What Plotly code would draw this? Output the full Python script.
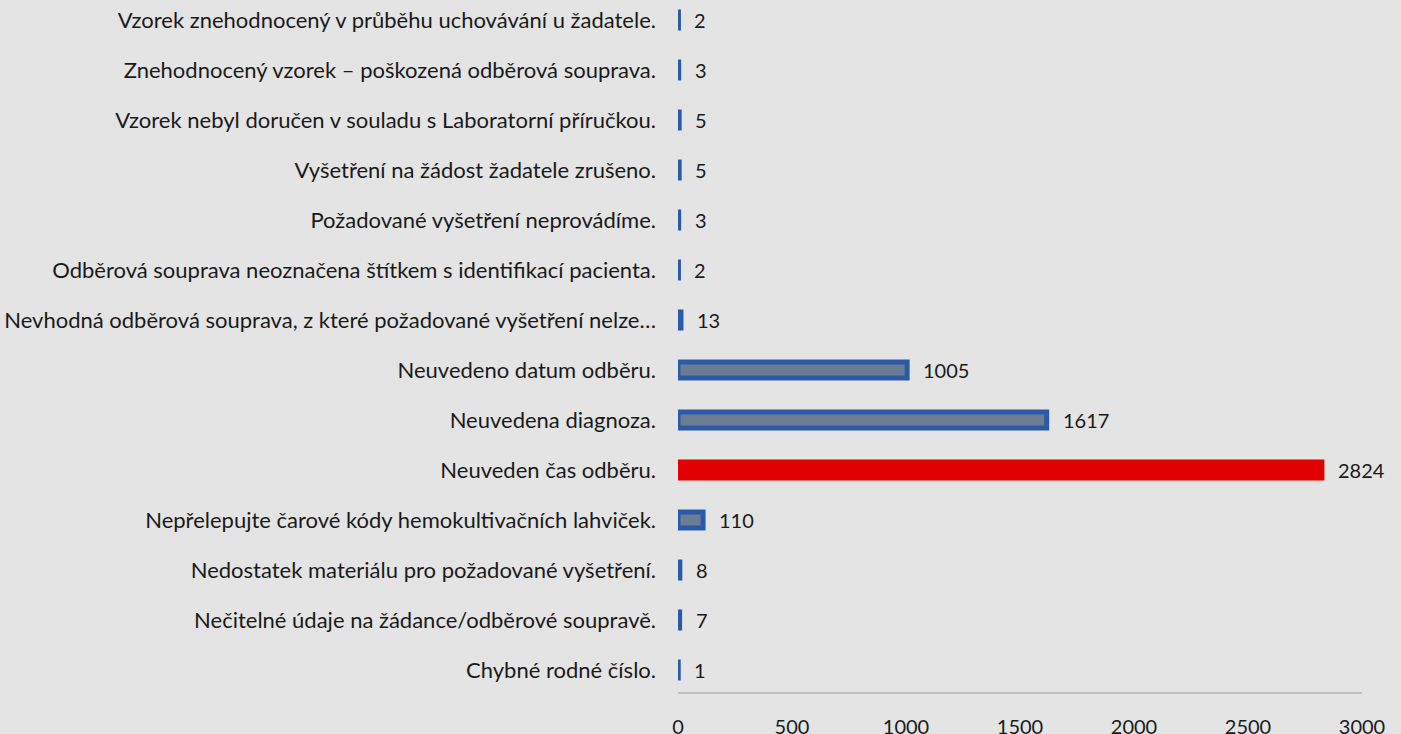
import plotly.graph_objects as go

categories = [
    "Chybné rodné číslo.",
    "Nečitelné údaje na žádance/odběrové soupravě.",
    "Nedostatek materiálu pro požadované vyšetření.",
    "Nepřelepujte čarové kódy hemokultivačních lahviček.",
    "Neuveden čas odběru.",
    "Neuvedena diagnoza.",
    "Neuvedeno datum odběru.",
    "Nevhodná odběrová souprava, z které požadované vyšetření nelze…",
    "Odběrová souprava neoznačena štítkem s identifikací pacienta.",
    "Požadované vyšetření neprovádíme.",
    "Vyšetření na žádost žadatele zrušeno.",
    "Vzorek nebyl doručen v souladu s Laboratorní příručkou.",
    "Znehodnocený vzorek – poškozená odběrová souprava.",
    "Vzorek znehodnocený v průběhu uchovávání u žadatele.",
]
values = [1, 7, 8, 110, 2824, 1617, 1005, 13, 2, 3, 5, 5, 3, 2]
highlight = "Neuveden čas odběru."
x_ticks = [0, 500, 1000, 1500, 2000, 2500, 3000]

FONT = "Lato"
fill = ["#e00000" if c == highlight else "#6b7d94" for c in categories]
border = ["#e00000" if c == highlight else "#2d5aa8" for c in categories]

fig = go.Figure(go.Bar(
    x=values, y=categories, orientation="h",
    marker=dict(color=fill, line=dict(color=border, width=5)),
    width=0.32, hoverinfo="x+y",
))

for c, v in zip(categories, values):
    fig.add_annotation(x=v, y=c, text=str(v), showarrow=False, xanchor="left",
                       xshift=14, font=dict(family=FONT, size=20, color="#1a1a1a"))

fig.update_layout(
    width=1401, height=734,
    paper_bgcolor="#e4e4e4", plot_bgcolor="#e4e4e4",
    margin=dict(l=678, r=39, t=0, b=42, autoexpand=False),
    showlegend=False,
    xaxis=dict(range=[0, 3000], tickvals=x_ticks, showgrid=False, zeroline=False,
               showline=True, linecolor="#bfbfbf", linewidth=2,
               ticks="", ticklabelstandoff=16,
               tickfont=dict(family=FONT, size=20, color="#1a1a1a")),
    yaxis=dict(categoryorder="array", categoryarray=categories,
               range=[-0.44, 13.4], showgrid=False, zeroline=False, showline=False,
               ticks="", ticklabelstandoff=21, automargin=False,
               tickfont=dict(family=FONT, size=22, color="#1a1a1a")),
)

fig.write_html("out.html", config={"displayModeBar": False},
               post_script="document.body.style.margin='0';document.body.style.overflow='hidden';")
